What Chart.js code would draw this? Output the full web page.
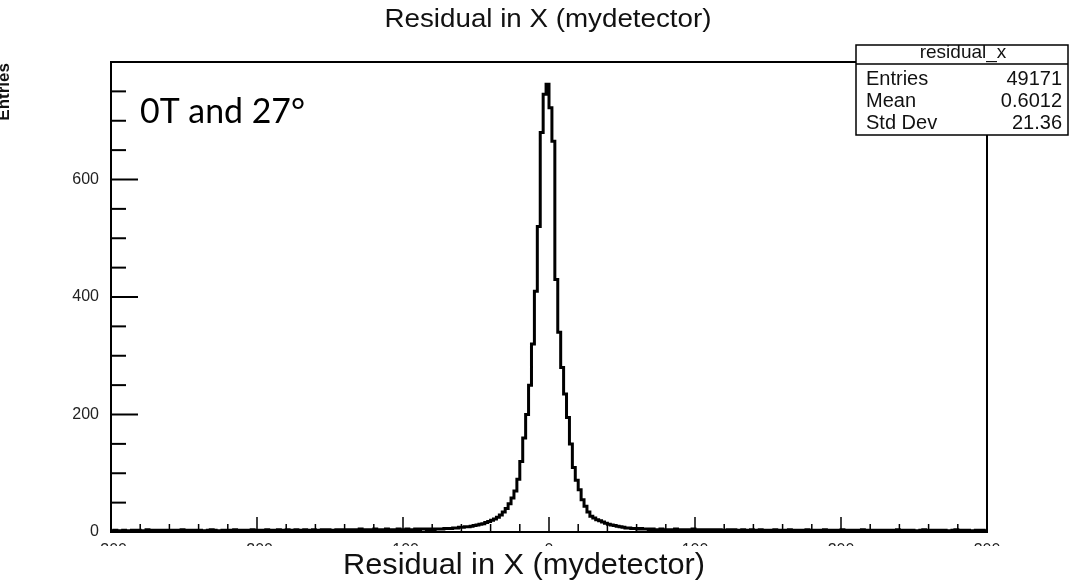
<!DOCTYPE html>
<html lang="ja">
<head>
<meta charset="UTF-8">
<title>Residual in X (mydetector)</title>
<script src="https://cdn.jsdelivr.net/npm/chart.js@4.4.1/dist/chart.umd.min.js"></script>
<style>
  html, body { margin: 0; padding: 0; background: #fff; }
  #wrap { width: 1071px; height: 584px; position: relative; }
</style>
</head>
<body>
<div id="wrap"><canvas id="residual-chart" width="1071" height="584"></canvas></div>
<script>
// ヒストグラムの範囲 (bin幅 2、-300〜300 の 300 bin)
const X_MIN = -300;
const X_MAX = 300;
const BIN_WIDTH = 2;
const Y_MAX = 800;

// 各 bin のカウント (図から目で読み取った値)
const binCounts = [
  // -300 〜 -81
  2, 3, 2, 2, 3, 1, 2, 3, 2, 3, 2, 2, 4, 3, 2, 3, 2, 3, 2, 3,
  3, 2, 3, 2, 4, 2, 3, 3, 2, 3, 3, 2, 2, 3, 4, 3, 2, 2, 3, 3,
  3, 2, 4, 2, 3, 3, 3, 2, 4, 3, 3, 2, 3, 4, 3, 3, 2, 4, 3, 3,
  4, 3, 3, 4, 3, 2, 4, 3, 3, 4, 3, 3, 4, 3, 4, 3, 3, 4, 4, 3,
  4, 3, 4, 4, 3, 5, 4, 3, 4, 4, 5, 3, 4, 4, 5, 4, 4, 3, 5, 4,
  4, 5, 4, 4, 5, 4, 5, 5, 4, 5,
  // -80 〜 -3 (左側の立ち上がり)
  4, 5, 5, 5, 6, 6, 6, 7, 7, 8, 8, 9, 9, 10, 11, 12, 13, 14, 16, 18,
  20, 22, 25, 29, 34, 40, 48, 58, 70, 90, 120, 160, 200, 250, 320, 410, 520, 680, 745,
  // ピーク [-2, 0]
  762,
  // 0 〜 69 (右側の立ち下がり)
  722, 665, 430, 340, 280, 235, 195, 150, 110, 88, 72, 55, 44, 34, 27, 24, 21, 19, 17, 15,
  13, 12, 11, 10, 9, 8, 7, 7, 6, 6, 5, 6, 5, 5, 4,
  // 70 〜 300
  5, 4, 4, 5, 4, 3, 4, 4, 5, 3, 4, 4, 3, 4, 5, 3, 4, 3, 4, 4,
  3, 4, 3, 4, 3, 3, 4, 3, 4, 3, 3, 4, 2, 3, 4, 3, 3, 4, 3, 3,
  3, 2, 4, 3, 3, 3, 2, 4, 3, 3, 2, 3, 3, 4, 2, 3, 3, 2, 3, 4,
  3, 2, 3, 3, 2, 4, 3, 2, 3, 3, 2, 3, 4, 2, 3, 2, 3, 3, 2, 3,
  2, 3, 3, 2, 4, 2, 3, 2, 3, 3, 2, 2, 3, 4, 2, 3, 2, 3, 2, 3,
  3, 2, 2, 3, 4, 2, 3, 2, 3, 2, 2, 3, 2, 3, 2
];

// 軸ラベルと統計ボックスの文字
const xTickValues = [-300, -200, -100, 0, 100, 200, 300];
const yTickValues = [0, 200, 400, 600];
const statsLabels = ['Entries', 'Mean', 'Std Dev'];
const statsValues = ['49171', '0.6012', '21.36'];
const histName = 'residual_x';
const plotTitle = 'Residual in X (mydetector)';
const xTitle = 'Residual in X (mydetector)';
const yTitle = 'Entries';
const noteText = '0T and 27°';

const ROOT_FONT = '"Liberation Sans", Arial, Helvetica, sans-serif';

// bin の下端に点を置き、最後に右端を足して階段状に描く
const points = binCounts.map((c, i) => ({ x: X_MIN + i * BIN_WIDTH, y: c }));
points.push({ x: X_MAX, y: binCounts[binCounts.length - 1] });

// 幅を合わせて文字を描く
function fitText(ctx, text, x, y, width, font, align) {
    ctx.font = font;
    const w = ctx.measureText(text).width;
    ctx.save();
    ctx.translate(x, y);
    ctx.scale(width / w, 1);
    ctx.textAlign = align;
    ctx.textBaseline = 'alphabetic';
    ctx.fillText(text, 0, 0);
    ctx.restore();
}

function line(ctx, x1, y1, x2, y2) {
    ctx.beginPath();
    ctx.moveTo(x1, y1);
    ctx.lineTo(x2, y2);
    ctx.stroke();
}

// ROOT 風の枠・目盛り・統計ボックス・文字
const rootDecor = {
    id: 'rootDecor',
    afterDraw(chart) {
        const { ctx, chartArea: a, scales: { x, y } } = chart;
        ctx.save();
        ctx.strokeStyle = '#000';
        ctx.fillStyle = '#000';

        // 枠
        ctx.lineWidth = 2;
        ctx.strokeRect(a.left, a.top, a.right - a.left, a.bottom - a.top);

        // x 目盛り (内向き)
        ctx.lineWidth = 1.5;
        for (let v = X_MIN; v <= X_MAX; v += 20) {
            const px = x.getPixelForValue(v);
            const len = v % 100 === 0 ? 15 : 8;
            line(ctx, px, a.bottom, px, a.bottom - len);
        }
        // y 目盛り
        ctx.lineWidth = 2;
        for (let v = 0; v <= Y_MAX; v += 50) {
            const py = y.getPixelForValue(v);
            const len = v % 200 === 0 ? 27 : 15;
            line(ctx, a.left, py, a.left + len, py);
        }

        // 統計ボックス
        const bx = 856, by = 45, bw = 212, bh = 90;
        ctx.fillStyle = '#fff';
        ctx.fillRect(bx, by, bw, bh);
        ctx.lineWidth = 1.5;
        ctx.strokeRect(bx, by, bw, bh);
        line(ctx, bx, 64, bx + bw, 64);
        ctx.fillStyle = '#111';
        ctx.font = '19px ' + ROOT_FONT;
        ctx.textAlign = 'center';
        ctx.fillText(histName, bx + bw / 2 + 1, 58);
        ctx.font = '20px ' + ROOT_FONT;
        statsLabels.forEach((lab, i) => {
            const yy = 85 + i * 22;
            ctx.textAlign = 'left';
            ctx.fillText(lab, 866, yy);
            ctx.textAlign = 'right';
            ctx.fillText(statsValues[i], 1062, yy);
        });

        // 上のタイトル
        ctx.fillStyle = '#111';
        fitText(ctx, plotTitle, 548, 27, 327, '26px ' + ROOT_FONT, 'center');

        // y 軸タイトル (左端で切れている)
        ctx.save();
        ctx.translate(9, 63);
        ctx.rotate(-Math.PI / 2);
        ctx.font = 'bold 17px ' + ROOT_FONT;
        ctx.textAlign = 'right';
        ctx.fillText(yTitle, 0, 0);
        ctx.restore();

        // 注記
        ctx.fillStyle = '#000';
        fitText(ctx, noteText, 140, 123, 165, '34px Lato, "Open Sans", sans-serif', 'left');

        // 下側の目盛りラベルを隠す白い帯と x 軸タイトル
        ctx.fillStyle = '#fff';
        ctx.fillRect(0, 546, chart.width, chart.height - 546);
        ctx.fillStyle = '#111';
        fitText(ctx, xTitle, 524, 574, 362, '29px ' + ROOT_FONT, 'center');

        ctx.restore();
    }
};

const ctx = document.getElementById('residual-chart').getContext('2d');
new Chart(ctx, {
    type: 'line',
    data: {
        datasets: [{
            label: histName,
            data: points,
            stepped: true,
            borderColor: '#000',
            borderWidth: 3,
            pointRadius: 0,
            fill: false,
            tension: 0
        }]
    },
    options: {
        responsive: false,
        animation: false,
        devicePixelRatio: 1,
        layout: { padding: { top: 62, right: 84, left: 0, bottom: 0 } },
        plugins: {
            legend: { display: false },
            tooltip: { enabled: false },
            title: { display: false }
        },
        scales: {
            x: {
                type: 'linear',
                min: X_MIN,
                max: X_MAX,
                afterFit: scale => { scale.height = 52; },
                grid: { display: false, drawTicks: false },
                border: { display: false },
                ticks: {
                    stepSize: 100,
                    padding: 9,
                    color: '#222',
                    font: { family: ROOT_FONT, size: 16 },
                    maxRotation: 0,
                    autoSkip: false,
                    callback: v => xTickValues.includes(v) ? String(v) : ''
                }
            },
            y: {
                min: 0,
                max: Y_MAX,
                afterFit: scale => { scale.width = 111; },
                grid: { display: false, drawTicks: false },
                border: { display: false },
                ticks: {
                    stepSize: 200,
                    padding: 12,
                    color: '#222',
                    font: { family: ROOT_FONT, size: 16 },
                    callback: v => yTickValues.includes(v) ? String(v) : ''
                }
            }
        }
    },
    plugins: [rootDecor]
});
</script>
</body>
</html>
